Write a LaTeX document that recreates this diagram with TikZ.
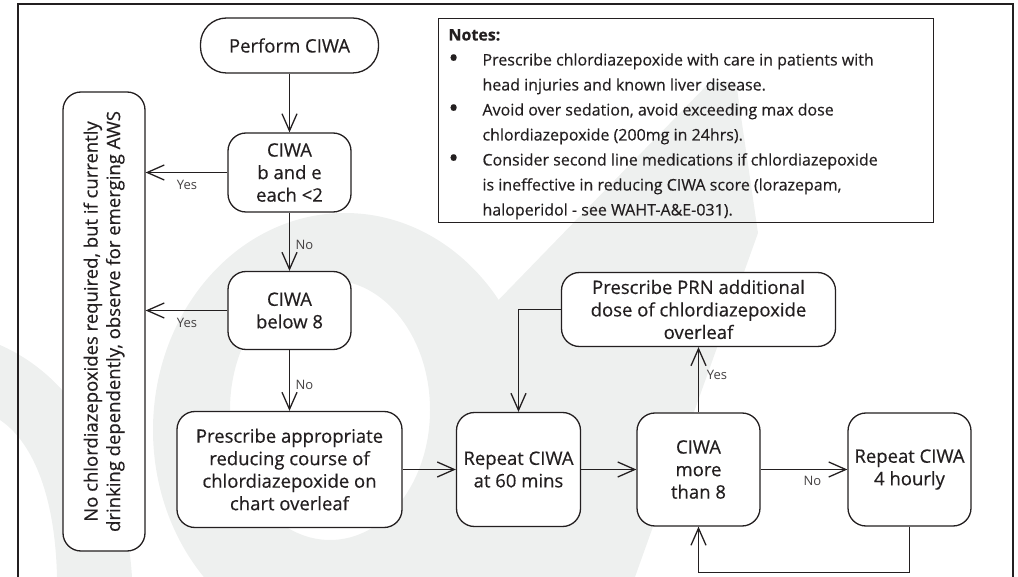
\documentclass[tikz,border=0pt]{standalone}
\usepackage{fontspec}
\setmainfont{Open Sans}[FakeBold=0.4]
\newfontfamily\lblfont{Open Sans}
\usetikzlibrary{arrows.meta}
\definecolor{ink}{RGB}{35,31,32}
\definecolor{wm}{RGB}{238,240,239}
\newcommand{\nbul}{\raisebox{-2pt}{\scalebox{1.7}{\textbullet}}}
\begin{document}
\begin{tikzpicture}[x=1pt,y=-1pt,
  box/.style={draw=ink, line width=1.3pt, rounded corners=18pt, fill=white, align=center,
    inner sep=0pt, text=ink, font=\fontsize{18.5}{22.5}\selectfont},
  conn/.style={draw=ink, line width=1.3pt, -{Straight Barb[length=17pt,width=15pt,line width=1.3pt]}},
  lbl/.style={font=\lblfont\fontsize{13}{15}\selectfont, text=ink!85, inner sep=0pt},
]
\useasboundingbox (0,0) rectangle (1018,577);
% watermark
\fill[wm, even odd rule] (345,430) ellipse [x radius=192, y radius=217]
  (330,410) ellipse [x radius=100, y radius=130];
\fill[wm] (710,82) -- (736,82) -- (758,233) -- (635,577) -- (450,577) -- (450,350) -- cycle;
\fill[wm] (0,345) .. controls (80,380) and (125,470) .. (132,577) -- (57,577)
  .. controls (55,490) and (30,440) .. (0,420) -- cycle;
% frame
\draw[ink, line width=2pt] (18,577) -- (18,4) -- (1013,4) -- (1013,577);
% notes
\node[draw=ink, line width=1pt, anchor=north west, inner sep=0pt, text=ink,
  font=\fontsize{16}{25}\selectfont] (notes) at (438,18) {%
  \begin{tabular}{@{\hspace{10pt}}p{34pt}@{}p{451pt}@{}}
  \multicolumn{2}{@{\hspace{10pt}}l@{}}{\rule{0pt}{22pt}\bfseries Notes:}\\
  \nbul & Prescribe chlordiazepoxide with care in patients with\\
   & head injuries and known liver disease.\\
  \nbul & Avoid over sedation, avoid exceeding max dose\\
   & chlordiazepoxide (200mg in 24hrs).\\
  \nbul & Consider second line medications if chlordiazepoxide\\
   & is ineffective in reducing CIWA score (lorazepam,\\
   & haloperidol - see WAHT-A\&E-031).\\
  \end{tabular}};
% nodes
\node[box, minimum width=178pt, minimum height=55pt, rounded corners=26pt] (perform) at (289.5,45.5) {Perform CIWA};
\node[box, minimum width=123pt, minimum height=79pt] (be) at (289.5,172.5) {CIWA\\b and e\\each <2};
\node[box, minimum width=123pt, minimum height=78pt] (b8) at (289.5,310.5) {CIWA\\below 8};
\node[box, minimum width=225pt, minimum height=116pt] (presc) at (289.5,469.5) {Prescribe appropriate\\reducing course of\\chlordiazepoxide on\\chart overleaf};
\node[box, rotate=90, minimum width=459pt, minimum height=82pt] (none) at (104,321.5) {No chlordiazepoxides required, but if currently\\drinking dependently, observe for emerging AWS};
\node[box, minimum width=124pt, minimum height=114pt] (r60) at (518.5,469.5) {Repeat CIWA\\at 60 mins};
\node[box, minimum width=123pt, minimum height=113pt] (more8) at (698.5,469.5) {CIWA\\more\\than 8};
\node[box, minimum width=123pt, minimum height=113pt] (r4) at (909.5,469.5) {Repeat CIWA\\4 hourly};
\node[box, minimum width=274pt, minimum height=74pt] (prn) at (698.5,309.5) {Prescribe PRN additional\\dose of chlordiazepoxide\\overleaf};
\coordinate (loop) at (909.5,572.5);
% connector labels
\node[lbl] (yes1) at (187,185) {Yes};
\node[lbl] (yes2) at (187,323) {Yes};
\node[lbl] (no1) at (304.5,245) {No};
\node[lbl] (no2) at (304.5,385) {No};
\node[lbl] (yes3) at (717,375) {Yes};
\node[lbl] (no3) at (812.5,481) {No};
% connectors
\draw[conn] (perform) -- (be);
\draw[conn] (be) -- (b8);
\draw[conn] (b8) -- (presc);
\draw[conn] (be.west) -- (be.west -| none.south);
\draw[conn] (b8.west) -- (b8.west -| none.south);
\draw[conn] (presc) -- (r60);
\draw[conn] (r60) -- (more8);
\draw[conn] (more8) -- (r4);
\draw[conn] (more8) -- (prn);
\draw[conn] (prn.west) -| (r60.north);
\draw[conn] (r4.south) -- (loop) -| (more8.south);
\end{tikzpicture}
\end{document}
